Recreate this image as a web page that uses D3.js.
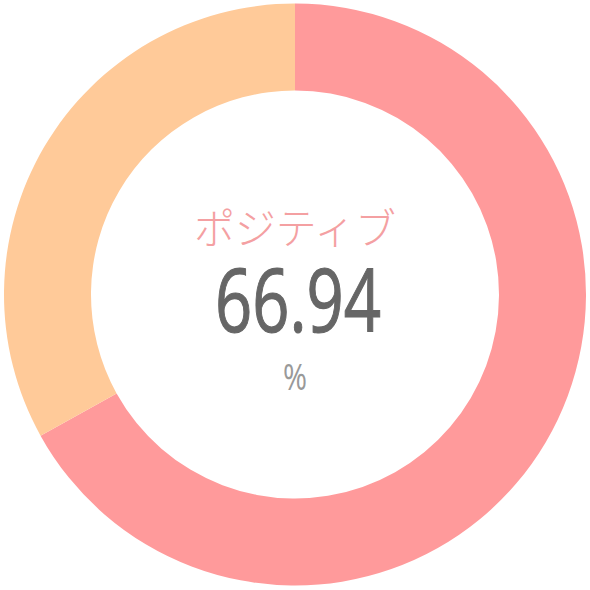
<!DOCTYPE html>
<html>
<head>
<meta charset="utf-8">
<script src="https://cdn.jsdelivr.net/npm/d3@7"></script>
<style>
  body { margin: 0; background: #fff; }
</style>
</head>
<body>
<script>
const w = 590
const h = 590

// Data: sentiment share (%)
const categories = ["ポジティブ", "その他"]
const values = [66.94, 33.06]
const colors = ["#ff9a9b", "#ffca99"]
const unitLabel = "%"

const cx = 295
const cy = 294.5
const outerR = 291
const innerR = 204

const svg = d3.select("body")
              .append("svg")
              .attr("width", w)
              .attr("height", h)

const pie = d3.pie()
              .sort(null)
              .value(d => d)

const arc = d3.arc()
              .innerRadius(innerR)
              .outerRadius(outerR)

const g = svg.append("g")
             .attr("transform", `translate(${cx}, ${cy})`)

g.selectAll("path")
  .data(pie(values))
  .enter()
  .append("path")
  .attr("d", arc)
  .attr("fill", (d, i) => colors[i])

// centre labels - number font is narrow, squeeze it with textLength
g.append("text")
  .attr("text-anchor", "middle")
  .attr("y", -51)
  .attr("textLength", 202)
  .attr("lengthAdjust", "spacingAndGlyphs")
  .style("font-family", "'Noto Sans CJK JP', sans-serif")
  .style("font-weight", 300)
  .style("font-size", "42px")
  .style("fill", "#f4a0a2")
  .text(categories[0])

// a thin stroke gives the medium weight of the original digits
g.append("text")
  .attr("text-anchor", "middle")
  .attr("x", 3)
  .attr("y", 37.5)
  .attr("textLength", 166)
  .attr("lengthAdjust", "spacingAndGlyphs")
  .style("font-family", "'Open Sans', sans-serif")
  .style("font-size", "88px")
  .style("fill", "#666666")
  .style("stroke", "#666666")
  .style("stroke-width", 1.2)
  .text(values[0].toFixed(2))

g.append("text")
  .attr("text-anchor", "middle")
  .attr("y", 95.5)
  .attr("textLength", 24)
  .attr("lengthAdjust", "spacingAndGlyphs")
  .style("font-family", "'Open Sans', sans-serif")
  .style("font-size", "37px")
  .style("fill", "#999999")
  .text(unitLabel)
</script>
</body>
</html>
